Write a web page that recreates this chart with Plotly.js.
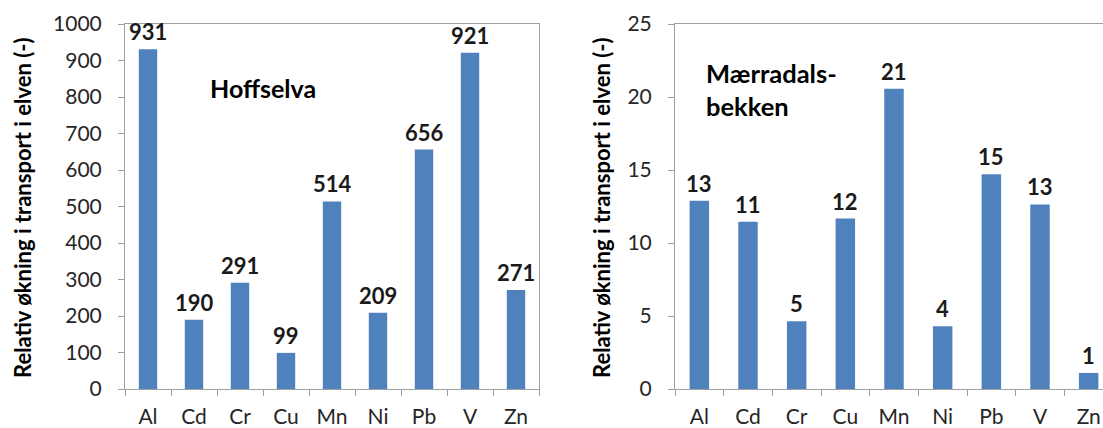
<!DOCTYPE html>
<html>
<head>
<meta charset="utf-8">
<script src="https://cdn.plot.ly/plotly-3.0.1.min.js"></script>
<style>
html,body{margin:0;padding:0;overflow:hidden;background:#fff;}
#chart{width:1114px;height:428px;}
</style>
</head>
<body>
<div id="chart"></div>
<script>
const categories = ["Al","Cd","Cr","Cu","Mn","Ni","Pb","V","Zn"];
const hoffselvaValues = [931,190,291,99,514,209,656,921,271];
const maerradalsValues = [12.9,11.45,4.64,11.67,20.56,4.3,14.71,12.64,1.1];
const leftTicks = [0,100,200,300,400,500,600,700,800,900,1000];
const rightTicks = [0,5,10,15,20,25];
const yTitle = "Relativ økning i transport i elven (-)";
const leftName = "Hoffselva";
const rightName = "Mærradals-<br>bekken";

const W = 1114, H = 428;
const FONT = "Lato, 'Open Sans', sans-serif";
const barColor = "#4f81bd";
const axisColor = "#a0a0a0";

function barTrace(vals, xa, ya){
  return {
    type:"bar", x:categories, y:vals, xaxis:xa, yaxis:ya,
    marker:{color:barColor},
    hoverinfo:"x+y"
  };
}
function valueLabels(vals, xa, ya){
  return vals.map((v,i)=>({
    text: Math.round(v).toString(), x: categories[i], y: v,
    xref: xa, yref: ya, xanchor:"center", yanchor:"bottom", yshift:2,
    showarrow:false,
    font:{family:FONT, size:22, color:"#1a1a1a", weight:"bold"}
  }));
}

const yTop = 24, yBot = 389;
const ydom = [(H-yBot)/H, (H-yTop)/H];

function xAxis(dom){
  return {
    domain:dom, type:"category", tickson:"boundaries",
    ticks:"outside", ticklen:6, tickcolor:axisColor,
    showline:true, linecolor:axisColor, linewidth:1, mirror:true,
    showgrid:false, zeroline:false,
    tickfont:{family:FONT, size:21, color:"#262626"},
    ticklabelstandoff:9,
    range:[-0.5,8.5], fixedrange:true
  };
}
function yAxis(dom, ticks, maxv){
  return {
    domain:dom, range:[0,maxv], tickvals:ticks,
    ticks:"outside", ticklen:6, tickcolor:axisColor,
    showline:true, linecolor:axisColor, linewidth:1, mirror:true,
    showgrid:false, zeroline:false,
    tickfont:{family:FONT, size:21, color:"#262626"},
    ticklabelstandoff:12, fixedrange:true
  };
}

const data = [
  barTrace(hoffselvaValues,"x","y"),
  barTrace(maerradalsValues,"x2","y2")
];

const layout = {
  width:W, height:H,
  margin:{l:0,r:0,t:0,b:0},
  paper_bgcolor:"#fff", plot_bgcolor:"#fff",
  showlegend:false, bargap:0.6,
  font:{family:FONT},
  xaxis: xAxis([125/W, 539/W]),
  yaxis: Object.assign(yAxis(ydom, leftTicks, 1000), {anchor:"x"}),
  xaxis2: Object.assign(xAxis([675/W, 1113/W]), {anchor:"y2"}),
  yaxis2: Object.assign(yAxis(ydom, rightTicks, 25), {anchor:"x2"}),
  annotations:[
    {text:yTitle, xref:"paper", yref:"paper", x:22/W, y:(H-208)/H, textangle:-90,
     showarrow:false, font:{family:FONT, size:22, color:"#000", weight:"bold"}, xanchor:"center", yanchor:"middle"},
    {text:yTitle, xref:"paper", yref:"paper", x:601/W, y:(H-208)/H, textangle:-90,
     showarrow:false, font:{family:FONT, size:22, color:"#000", weight:"bold"}, xanchor:"center", yanchor:"middle"},
    {text:leftName, xref:"paper", yref:"paper", x:208/W, y:(H-88)/H, xanchor:"left", yanchor:"middle",
     showarrow:false, font:{family:FONT, size:25, color:"#000", weight:"bold"}},
    {text:rightName, xref:"paper", yref:"paper", x:704/W, y:(H-89)/H, xanchor:"left", yanchor:"middle", align:"left",
     showarrow:false, font:{family:FONT, size:25.5, color:"#000", weight:"bold"}}
  ].concat(valueLabels(hoffselvaValues,"x","y"), valueLabels(maerradalsValues,"x2","y2"))
};

Plotly.newPlot("chart", data, layout, {displayModeBar:false, staticPlot:true});
</script>
</body>
</html>
